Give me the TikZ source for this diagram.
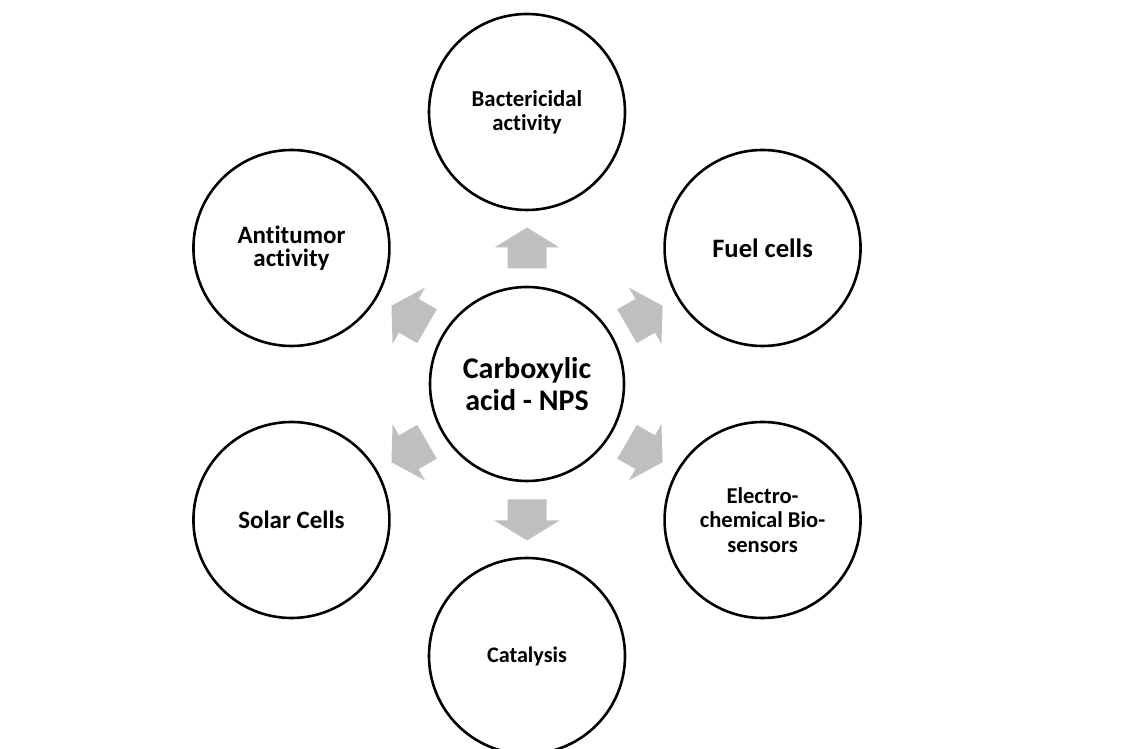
\documentclass[tikz,border=0pt]{standalone}
\usepackage{fontspec}
\setmainfont{Carlito}[Ligatures=NoCommon]
\usetikzlibrary{calc}

\begin{document}
\begin{tikzpicture}[x=0.5pt,y=0.5pt,
    bubble/.style={draw, circle, line width=1.3pt, minimum size=98pt, inner sep=0pt,
                   align=center, font=\bfseries},
    hubbubble/.style={bubble, minimum size=97pt},
    blockarrow/.pic={\fill[black!25] (-20.5,-19.5) -- (0.5,-19.5) -- (0.5,-32.5) -- (20.5,0)
                     -- (0.5,32.5) -- (0.5,19.5) -- (-20.5,19.5) -- cycle;}]
        \useasboundingbox (0,0) rectangle (1140,749);

        % Centre
        \node[hubbubble, font=\bfseries\fontsize{15}{16}\selectfont] (hub) at (527,365) {Carboxylic\\acid - NPS};

        % Applications
        \node[bubble, font=\bfseries\fontsize{11.4}{12}\selectfont] (bact) at ($(hub)+(90:272)$) {Bactericidal\\activity};
        \node[bubble, font=\bfseries\fontsize{13.3}{15}\selectfont] (fuel) at ($(hub)+(30:272)$) {Fuel cells};
        \node[bubble, font=\bfseries\fontsize{11.3}{12.25}\selectfont] (sens) at ($(hub)+(-30:272)$) {Electro-\\chemical Bio-\\sensors};
        \node[bubble, font=\bfseries\fontsize{11.1}{12}\selectfont] (cata) at ($(hub)+(-90:272)$) {Catalysis};
        \node[bubble, font=\bfseries\fontsize{12.5}{13}\selectfont] (solar) at ($(hub)+(210:272)$) {Solar Cells};
        \node[bubble, font=\bfseries\fontsize{12.5}{11.5}\selectfont] (tumor) at ($(hub)+(150:272)$) {Antitumor\\activity};

        % Arrows out of the centre
        \pic[rotate=90] at ($(hub)!0.5!(bact)$) {blockarrow};
        \pic[rotate=30] at ($(hub)!0.5!(fuel)$) {blockarrow};
        \pic[rotate=-30] at ($(hub)!0.5!(sens)$) {blockarrow};
        \pic[rotate=-90] at ($(hub)!0.5!(cata)$) {blockarrow};
        \pic[rotate=210] at ($(hub)!0.5!(solar)$) {blockarrow};
        \pic[rotate=150] at ($(hub)!0.5!(tumor)$) {blockarrow};
    \end{tikzpicture}
\end{document}
